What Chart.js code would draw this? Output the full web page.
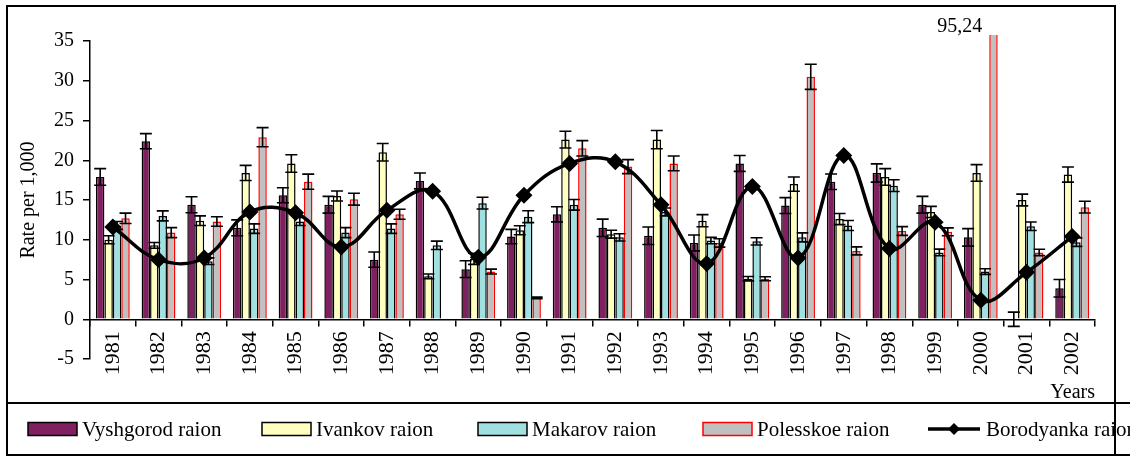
<!DOCTYPE html>
<html><head><meta charset="utf-8">
<script src="https://cdn.jsdelivr.net/npm/chart.js@4/dist/chart.umd.min.js"></script>
<style>html,body{margin:0;padding:0;background:#fff;}canvas{display:block;}</style>
</head><body>
<canvas id="c" width="1130" height="457"></canvas>
<script>
const years = ['1981','1982','1983','1984','1985','1986','1987','1988','1989','1990','1991','1992','1993','1994','1995','1996','1997','1998','1999','2000','2001','2002'];
const vyshgorod = [17.9, 22.4, 14.4, 11.5, 15.6, 14.4, 7.5, 17.4, 6.3, 10.4, 13.2, 11.5, 10.5, 9.6, 19.6, 14.3, 17.3, 18.4, 14.4, 10.3, 0, 3.9];
const ivankov = [10.0, 9.3, 12.4, 18.4, 19.6, 15.5, 21.0, 5.4, 7.6, 11.2, 22.6, 10.7, 22.6, 12.4, 5.1, 17.0, 12.6, 17.9, 13.5, 18.4, 15.0, 18.2];
const makarov = [11.8, 13.0, 7.3, 11.4, 12.3, 10.9, 11.4, 9.3, 14.6, 12.9, 14.4, 10.3, 13.5, 9.9, 9.8, 10.3, 11.8, 16.8, 8.4, 6.0, 11.7, 9.7];
const polesskoe = [12.7, 10.9, 12.3, 22.9, 17.3, 15.1, 13.2, null, 6.0, 2.7, 21.5, 19.2, 19.6, 9.6, 5.1, 30.5, 8.6, 11.1, 11.0, 95.24, 8.4, 14.1];
const borodyanka = [11.6, 7.5, 7.7, 13.5, 13.4, 9.1, 13.7, 16.1, 7.8, 15.6, 19.6, 19.8, 14.4, 7.0, 16.7, 7.7, 20.6, 8.9, 12.2, 2.4, 5.9, 10.4];
const vyshgorodErr = [1.05, 0.95, 1.0, 1.0, 0.95, 1.05, 0.95, 1.0, 1.05, 0.9, 0.95, 1.1, 1.1, 1.0, 1.0, 1.0, 0.97, 1.15, 1.05, 1.1, 0.9, 1.1];
const ivankovErr = [0.5, 0.36, 0.6, 0.95, 1.1, 0.63, 1.1, 0.3, 0.7, 0.57, 1.05, 0.5, 1.15, 0.76, 0.27, 0.9, 0.7, 1.05, 0.7, 1.05, 0.74, 0.95];
const makarovErr = [0.5, 0.63, 0.42, 0.6, 0.5, 0.63, 0.6, 0.53, 0.74, 0.74, 0.67, 0.46, 0.5, 0.4, 0.46, 0.57, 0.63, 0.74, 0.42, 0.36, 0.53, 0.53];
const polesskoeErr = [0.65, 0.63, 0.6, 1.2, 0.95, 0.74, 0.63, null, 0.3, 0.1, 0.97, 0.88, 0.93, 0.53, 0.25, 1.58, 0.5, 0.55, 0.5, null, 0.4, 0.74];
const yTicks = [-5, 0, 5, 10, 15, 20, 25, 30, 35];

const FONT = '"Liberation Serif", "Times New Roman", serif';

const errorBars = {
  id: 'errorBars',
  afterDatasetDraw(chart, args) {
    const ds = chart.data.datasets[args.index];
    if (!ds.errors) return;
    const ys = chart.scales.y, ctx = chart.ctx, a = chart.chartArea;
    ctx.save();
    ctx.beginPath(); ctx.rect(a.left - 10, a.top - 6, a.right - a.left + 20, a.bottom - a.top + 6); ctx.clip();
    ctx.strokeStyle = '#000'; ctx.lineWidth = 1.6;
    args.meta.data.forEach((bar, i) => {
      const v = ds.data[i], e = ds.errors[i];
      if (v == null || e == null) return;
      const x = bar.x, y1 = ys.getPixelForValue(v + e), y2 = ys.getPixelForValue(v - e), cap = 6;
      ctx.beginPath();
      ctx.moveTo(x, y1); ctx.lineTo(x, y2);
      ctx.moveTo(x - cap, y1); ctx.lineTo(x + cap, y1);
      ctx.moveTo(x - cap, y2); ctx.lineTo(x + cap, y2);
      ctx.stroke();
    });
    ctx.restore();
  }
};

const valueLabel = {
  id: 'valueLabel',
  afterDatasetsDraw(chart) {
    const ys = chart.scales.y, ctx = chart.ctx;
    chart.data.datasets.forEach((ds, di) => {
      if (ds.type === 'line') return;
      const meta = chart.getDatasetMeta(di);
      ds.data.forEach((v, i) => {
        if (v != null && v > ys.max) {
          const bar = meta.data[i];
          ctx.save();
          ctx.font = '20px ' + FONT; ctx.fillStyle = '#000';
          ctx.textAlign = 'right'; ctx.textBaseline = 'middle';
          ctx.fillText(String(v).replace('.', ','), bar.x - bar.width / 2 - 7, chart.chartArea.top - 14);
          ctx.restore();
        }
      });
    });
  }
};

const legendX = [28, 262, 478, 703, 928];
const frameLegend = {
  id: 'frameLegend',
  afterDraw(chart) {
    const ctx = chart.ctx;
    ctx.save();
    const cy = 429;
    chart.data.datasets.forEach((ds, i) => {
      const x = legendX[i];
      if (ds.type === 'line') {
        ctx.strokeStyle = ds.borderColor; ctx.lineWidth = 3.5;
        ctx.beginPath(); ctx.moveTo(x, cy); ctx.lineTo(x + 52, cy); ctx.stroke();
        ctx.fillStyle = ds.borderColor;
        ctx.beginPath(); ctx.moveTo(x + 26, cy - 6); ctx.lineTo(x + 32, cy); ctx.lineTo(x + 26, cy + 6); ctx.lineTo(x + 20, cy); ctx.closePath(); ctx.fill();
      } else {
        ctx.fillStyle = ds.backgroundColor;
        ctx.fillRect(x, cy - 6.5, 49, 13);
        ctx.strokeStyle = ds.borderColor; ctx.lineWidth = 1.5;
        ctx.strokeRect(x, cy - 6.5, 49, 13);
      }
      ctx.fillStyle = '#000';
      ctx.font = '21px ' + FONT; ctx.textAlign = 'left'; ctx.textBaseline = 'middle';
      ctx.fillText(ds.label, x + (ds.type === 'line' ? 58 : 54), cy + 1);
    });
    ctx.strokeStyle = '#000'; ctx.lineWidth = 2;
    ctx.strokeRect(7, 6, 1108, 449);
    ctx.beginPath();
    ctx.moveTo(7, 403); ctx.lineTo(1130, 403);
    ctx.moveTo(7, 455); ctx.lineTo(1130, 455);
    ctx.stroke();
    ctx.restore();
  }
};

new Chart(document.getElementById('c'), {
  type: 'bar',
  data: {
    labels: years,
    datasets: [
      {label: 'Vyshgorod raion', data: vyshgorod, errors: vyshgorodErr, backgroundColor: '#802060', borderColor: '#000', borderWidth: 1.5, order: 1},
      {label: 'Ivankov raion', data: ivankov, errors: ivankovErr, backgroundColor: '#FFFFC0', borderColor: '#000', borderWidth: 1.5, order: 1},
      {label: 'Makarov raion', data: makarov, errors: makarovErr, backgroundColor: '#A0E0E0', borderColor: '#000', borderWidth: 1.5, order: 1},
      {label: 'Polesskoe raion', data: polesskoe, errors: polesskoeErr, backgroundColor: '#C0C0C0', borderColor: '#FF0000', borderWidth: 1.5, order: 1,
       clip: {left: 10, top: 6, right: 10, bottom: 10}},
      {type: 'line', label: 'Borodyanka raion', data: borodyanka, borderColor: '#000', backgroundColor: '#000', borderWidth: 3.5,
       tension: 0.4, pointStyle: 'rectRot', pointRadius: 6, pointBackgroundColor: '#000', pointBorderColor: '#000', fill: false, order: 0}
    ]
  },
  options: {
    responsive: false, animation: false,
    layout: {padding: {left: 0, top: 41, right: 35, bottom: 98}},
    datasets: {bar: {categoryPercentage: 0.74, barPercentage: 1}},
    plugins: {legend: {display: false}, tooltip: {enabled: false}},
    scales: {
      x: {
        position: {y: 0},
        grid: {offset: true, drawOnChartArea: false, tickLength: 6, color: '#000', lineWidth: 1.5},
        border: {color: '#000', width: 1.5},
        ticks: {autoSkip: false, minRotation: 90, maxRotation: 90, padding: 6, color: '#000', font: {family: FONT, size: 22}},
        title: {display: true, text: 'Years', align: 'end', color: '#000', font: {family: FONT, size: 20}, padding: 0},
        afterFit(s) { s.height = 85; }
      },
      y: {
        min: -5, max: 35,
        afterBuildTicks(s) { s.ticks = yTicks.map(v => ({value: v})); },
        ticks: {padding: 9, color: '#000', font: {family: FONT, size: 20}},
        grid: {drawOnChartArea: false, tickLength: 7, color: '#000', lineWidth: 1.5},
        border: {color: '#000', width: 1.5},
        title: {display: true, text: 'Rate per 1,000', color: '#000', font: {family: FONT, size: 20}, padding: {top: 17, bottom: 0}},
        afterFit(s) { s.width = 90; }
      }
    }
  },
  plugins: [errorBars, valueLabel, frameLegend]
});
</script>
</body></html>
